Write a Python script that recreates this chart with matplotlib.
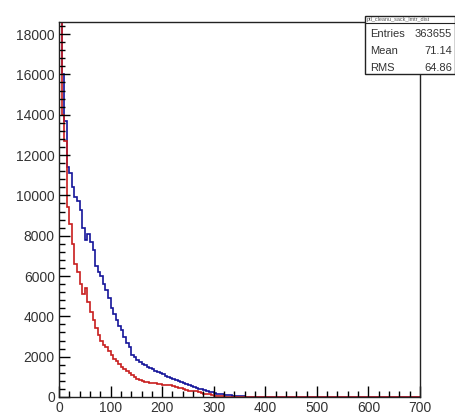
import numpy as np
import matplotlib.pyplot as plt
from matplotlib.ticker import MultipleLocator
from matplotlib.patches import Rectangle
from matplotlib.lines import Line2D

plt.rcParams['font.family'] = ['Liberation Sans', 'DejaVu Sans']

# гистограммы, бин = 5, от 0 до 700
bin_width = 5
x_max = 700

blue = [19500, 16000, 13700, 11400, 11100, 10400, 9900, 9700, 9300, 8400,
        7800, 8100, 7700, 7300, 6500, 6200, 6000, 5600, 5300, 4900,
        4400, 4100, 3800, 3500, 3300, 3000, 2700, 2500, 2100, 2000,
        1850, 1750, 1650, 1600, 1500, 1450, 1400, 1300, 1250, 1200,
        1150, 1050, 1000, 950, 880, 850, 800, 750, 700, 650,
        600, 550, 500, 450, 420, 380, 330, 290, 260, 230,
        200, 170, 150, 130, 110, 100, 80, 70, 60, 50,
        40, 30, 20, 15, 10]

red = [30000, 14000, 12700, 9400, 8600, 7600, 6600, 6200, 5600, 5100,
       5400, 4700, 4200, 3800, 3400, 3100, 2800, 2600, 2500, 2300,
       2100, 1900, 1800, 1650, 1500, 1400, 1300, 1200, 1100, 1000,
       900, 850, 800, 750, 720, 700, 680, 700, 650, 650,
       620, 600, 580, 600, 550, 480, 450, 450, 420, 330,
       300, 300, 280, 300, 260, 180, 160, 150, 140, 120,
       60, 50, 40, 30, 20]

n_bins = x_max // bin_width
blue_vals = np.array(blue + [0] * (n_bins - len(blue)), dtype=float)
red_vals = np.array(red + [0] * (n_bins - len(red)), dtype=float)
edges = np.arange(0, x_max + bin_width, bin_width)

stats_name = "ptl_cleanu_sack_lmtr_dist"
stats = [("Entries", "363655"), ("Mean", "71.14"), ("RMS", "64.86")]

fig = plt.figure(figsize=(4.55, 4.16), dpi=100)
ax = fig.add_axes([59 / 455, 1 - 397 / 416, (420 - 59) / 455, (397 - 22) / 416])

ax.stairs(blue_vals, edges, color='#14149a', linewidth=1.2)
ax.stairs(red_vals, edges, color='#c81e1e', linewidth=1.2)

ax.set_xlim(0, x_max)
ax.set_ylim(0, 18600)

ax.xaxis.set_major_locator(MultipleLocator(100))
ax.xaxis.set_minor_locator(MultipleLocator(20))
ax.yaxis.set_major_locator(MultipleLocator(2000))
ax.yaxis.set_minor_locator(MultipleLocator(400))
ax.tick_params(which='both', direction='in', top=False, right=False,
               labelsize=10, colors='black', labelcolor='#333333', width=1)
ax.tick_params(which='major', length=8)
ax.tick_params(which='minor', length=4)
ax.tick_params(axis='x', pad=3)
ax.tick_params(axis='y', pad=3)
for s in ax.spines.values():
    s.set_linewidth(1)
    s.set_color('#222222')

# статистика (как в ROOT)
bx0, by_top, by_bot = 365 / 455, 1 - 16 / 416, 1 - 74 / 416
fig.patches.append(Rectangle((bx0, by_bot), 1 - bx0, by_top - by_bot,
                             transform=fig.transFigure, facecolor='white',
                             edgecolor='#222222', linewidth=1, zorder=5))
fig.lines.append(Line2D([bx0, 1], [1 - 23 / 416] * 2, transform=fig.transFigure,
                        color='#222222', linewidth=0.8, zorder=6))
fig.text(bx0 + 0.003, 1 - 19.5 / 416, stats_name, fontsize=4, color='#555555',
         va='center', ha='left', zorder=7)
for i, (k, v) in enumerate(stats):
    y = 1 - (34 + i * 17) / 416
    fig.text(370 / 455, y, k, fontsize=8, va='center', ha='left',
             color='#333333', zorder=7)
    fig.text(452 / 455, y, v, fontsize=8, va='center', ha='right',
             color='#333333', zorder=7)

fig.savefig('out.png', dpi=100)
